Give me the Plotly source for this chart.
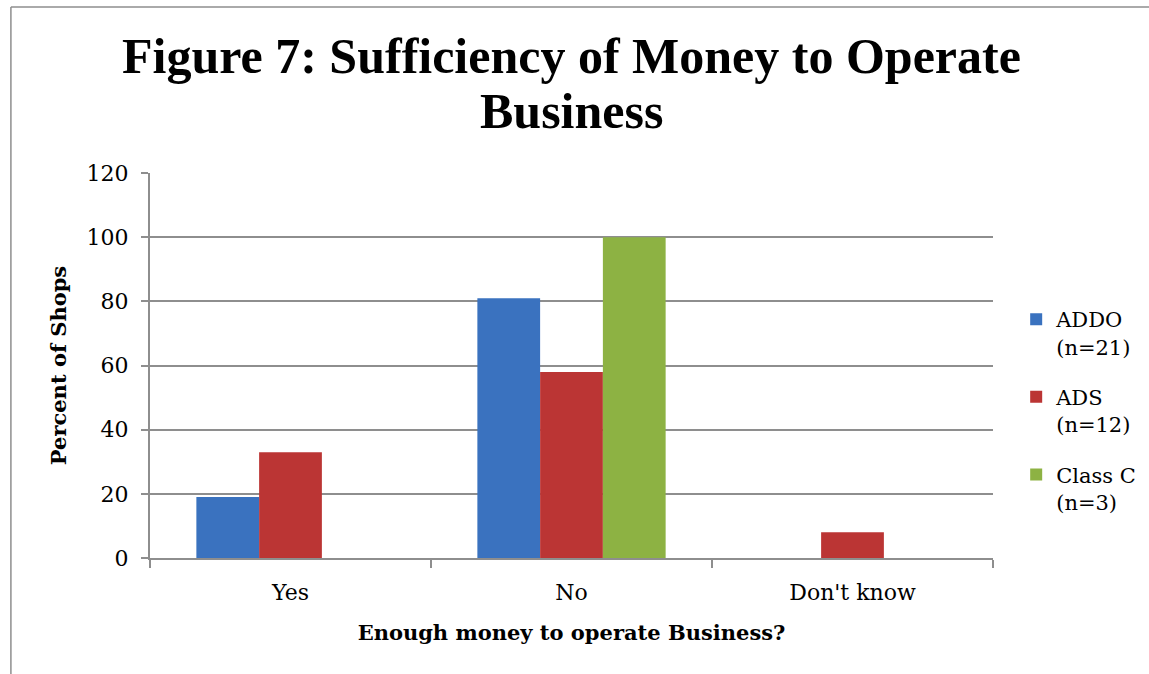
import plotly.graph_objects as go

# Survey responses: share of shops with enough money to run the business
categories = ["Yes", "No", "Don't know"]
series_names = ["ADDO<br>(n=21)", "ADS<br>(n=12)", "Class C<br>(n=3)"]
addo_values = [19, 81, 0]
ads_values = [33, 58, 8]
class_c_values = [0, 100, 0]
y_ticks = [0, 20, 40, 60, 80, 100, 120]
title_lines = ["Figure 7: Sufficiency of Money to Operate", "Business"]

series_values = [addo_values, ads_values, class_c_values]
series_colors = ["#3a72bf", "#bb3534", "#8db243"]

TITLE_FONT = "Liberation Serif, Times New Roman, serif"
BODY_FONT = "DejaVu Serif, serif"
GRID = "#8e8e8e"

fig = go.Figure()
for i, (name, vals, color) in enumerate(zip(series_names, series_values, series_colors)):
    fig.add_trace(go.Bar(
        x=categories,
        y=vals,
        name=name,
        legendgroup=f"g{i}",
        marker=dict(color=color, line=dict(width=0)),
    ))

# two-line chart title, set with tighter line spacing than a <br> title
title_y = [1.304, 1.161]
for text, ty in zip(title_lines, title_y):
    fig.add_annotation(
        text=f"<b>{text}</b>",
        xref="paper", yref="paper",
        x=0.5, y=ty,
        xanchor="center", yanchor="middle",
        showarrow=False,
        font=dict(family=TITLE_FONT, size=50, color="black"),
    )

fig.update_layout(
    width=1149,
    height=674,
    margin=dict(l=150, r=156, t=173, b=116, autoexpand=False),
    paper_bgcolor="white",
    plot_bgcolor="white",
    barmode="group",
    bargap=0.33,
    bargroupgap=0,
    font=dict(family=BODY_FONT, color="black", size=22),
    legend=dict(
        x=1.0275,
        xanchor="left",
        y=0.383,
        yanchor="middle",
        valign="top",
        font=dict(family=BODY_FONT, size=21),
        itemsizing="constant",
        tracegroupgap=20,
        bgcolor="rgba(0,0,0,0)",
    ),
    showlegend=True,
    xaxis=dict(
        title=dict(text="<b>Enough money to operate Business?</b>",
                   font=dict(family=BODY_FONT, size=21), standoff=21),
        showline=True,
        linecolor=GRID,
        linewidth=2,
        ticks="outside",
        ticklen=8,
        tickcolor=GRID,
        tickwidth=2,
        tickson="boundaries",
        ticklabelstandoff=14,
        showgrid=False,
        tickfont=dict(family=BODY_FONT, size=22),
    ),
    yaxis=dict(
        title=dict(text="<b>Percent of Shops</b>",
                   font=dict(family=BODY_FONT, size=21), standoff=14),
        range=[0, 120],
        tickvals=y_ticks,
        showline=True,
        linecolor=GRID,
        linewidth=2,
        ticks="outside",
        ticklen=7,
        tickcolor=GRID,
        tickwidth=2,
        ticklabelstandoff=8,
        showgrid=True,
        gridcolor=GRID,
        gridwidth=2,
        zeroline=False,
        tickfont=dict(family=BODY_FONT, size=22),
    ),
    shapes=[
        # chart frame (left and top edges)
        dict(type="line", xref="paper", yref="paper",
             x0=-0.165, x1=-0.165, y0=-0.32, y1=1.431,
             line=dict(color=GRID, width=1.5)),
        dict(type="line", xref="paper", yref="paper",
             x0=-0.165, x1=1.19, y0=1.431, y1=1.431,
             line=dict(color=GRID, width=1.5)),
    ],
)

fig.write_html("out.html")
